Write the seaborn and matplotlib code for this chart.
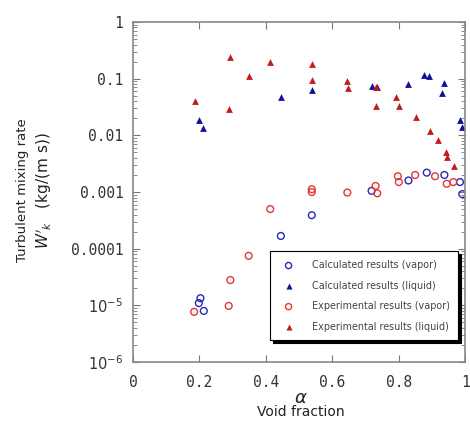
import numpy as np
import pandas as pd
import matplotlib
matplotlib.use("Agg")
import matplotlib.pyplot as plt
import seaborn as sns
from matplotlib.ticker import FixedLocator, FixedFormatter, LogLocator, NullFormatter

# values
calc_vap_x = [0.198, 0.203, 0.213, 0.445, 0.538, 0.718, 0.829, 0.884, 0.937, 0.984, 0.991]
calc_vap_y = [1.1e-5, 1.34e-5, 8e-6, 1.68e-4, 3.9e-4, 0.00105, 0.0016, 0.0022, 0.002, 0.0015, 0.00092]

calc_liq_x = [0.200, 0.210, 0.445, 0.538, 0.720, 0.735, 0.829, 0.877, 0.892, 0.929, 0.937, 0.984, 0.989]
calc_liq_y = [0.0187, 0.0135, 0.047, 0.063, 0.074, 0.072, 0.081, 0.115, 0.112, 0.057, 0.083, 0.019, 0.014]

exp_vap_x = [0.184, 0.288, 0.293, 0.348, 0.413, 0.538, 0.538, 0.645, 0.730, 0.735, 0.797, 0.800, 0.849, 0.909, 0.944, 0.964]
exp_vap_y = [7.7e-6, 9.8e-6, 2.8e-5, 7.5e-5, 0.0005, 0.00112, 0.001, 0.00098, 0.00128, 0.00095, 0.0019, 0.0015, 0.002, 0.0019, 0.0014, 0.0015]

exp_liq_x = [0.186, 0.288, 0.293, 0.348, 0.413, 0.538, 0.538, 0.645, 0.647, 0.730, 0.730, 0.792, 0.800, 0.852, 0.895, 0.919, 0.942, 0.945, 0.965]
exp_liq_y = [0.041, 0.029, 0.238, 0.11, 0.195, 0.18, 0.095, 0.091, 0.068, 0.07, 0.033, 0.047, 0.033, 0.021, 0.012, 0.0083, 0.005, 0.0042, 0.0029]

labels = ["Calculated results (vapor)", "Calculated results (liquid)",
          "Experimental results (vapor)", "Experimental results (liquid)"]

frames = []
for xs, ys, lab in zip([calc_vap_x, calc_liq_x, exp_vap_x, exp_liq_x],
                       [calc_vap_y, calc_liq_y, exp_vap_y, exp_liq_y], labels):
    frames.append(pd.DataFrame({"alpha": xs, "W": ys, "series": lab}))
df = pd.concat(frames, ignore_index=True)

sns.set_style("ticks")
plt.rcParams['font.family'] = ['DejaVu Sans']

fig = plt.figure(figsize=(4.70, 4.23), dpi=100)
ax = fig.add_axes([0.283, 0.144, 0.707, 0.804])

blue = "#2828b8"
red = "#e03838"
styles = {
    labels[0]: dict(marker="o", facecolors="none", edgecolors=blue, s=24, linewidths=1.0),
    labels[1]: dict(marker="^", color="#10109a", s=24, linewidths=0),
    labels[2]: dict(marker="o", facecolors="none", edgecolors=red, s=24, linewidths=1.0),
    labels[3]: dict(marker="^", color="#c41c1c", s=24, linewidths=0),
}
for lab in labels:
    sub = df[df["series"] == lab]
    sns.scatterplot(data=sub, x="alpha", y="W", ax=ax, label=lab, **styles[lab])

ax.set_yscale("log")
ax.set_xlim(0, 1)
ax.set_ylim(1e-6, 1)

mono = "DejaVu Sans Mono"
ax.xaxis.set_major_locator(FixedLocator([0, 0.2, 0.4, 0.6, 0.8, 1.0]))
ax.set_xticklabels(["0", "0.2", "0.4", "0.6", "0.8", "1"], family=mono, fontsize=10.5, color="#333333")
yt = [1e-6, 1e-5, 1e-4, 1e-3, 1e-2, 1e-1, 1]
ax.yaxis.set_major_locator(FixedLocator(yt))
ax.yaxis.set_major_formatter(FixedFormatter([r"$10^{-6}$", r"$10^{-5}$", "0.0001", "0.001", "0.01", "0.1", "1"]))
ax.yaxis.set_minor_locator(LogLocator(base=10, subs=np.arange(2, 10), numticks=20))
ax.yaxis.set_minor_formatter(NullFormatter())
for t in ax.get_yticklabels():
    t.set_family(mono)
    t.set_fontsize(10.5)
    t.set_color("#333333")

ax.tick_params(which="both", direction="in", top=True, right=True, color="#777777")
ax.tick_params(which="major", length=5, pad=7)
ax.tick_params(which="minor", length=3)
ax.tick_params(axis="x", pad=9)
for sp in ax.spines.values():
    sp.set_color("#888888")
    sp.set_linewidth(1.2)

ax.set_xlabel("")
ax.set_ylabel("")
fig.text(0.64, 0.06, r"$\alpha$", ha="center", va="center", fontsize=13, color="#222222")
fig.text(0.64, 0.026, "Void fraction", ha="center", va="center", fontsize=10, color="#222222")
fig.text(0.047, 0.55, "Turbulent mixing rate", rotation=90, ha="center", va="center", fontsize=9.5, color="#222222")
fig.text(0.095, 0.55, r"$W'_k$   (kg/(m s))", rotation=90, ha="center", va="center", fontsize=11, color="#222222")

leg = ax.legend(loc="lower right", bbox_to_anchor=(0.993, 0.05), fontsize=6.9, frameon=True,
                fancybox=False, shadow={"color": "black", "alpha": 1.0}, borderpad=0.9,
                labelspacing=1.1, handletextpad=1.4, markerscale=0.9)
leg.get_frame().set_edgecolor("black")
leg.get_frame().set_linewidth(0.8)
for t in leg.get_texts():
    t.set_color("#444444")

fig.savefig("out.png", dpi=100)
